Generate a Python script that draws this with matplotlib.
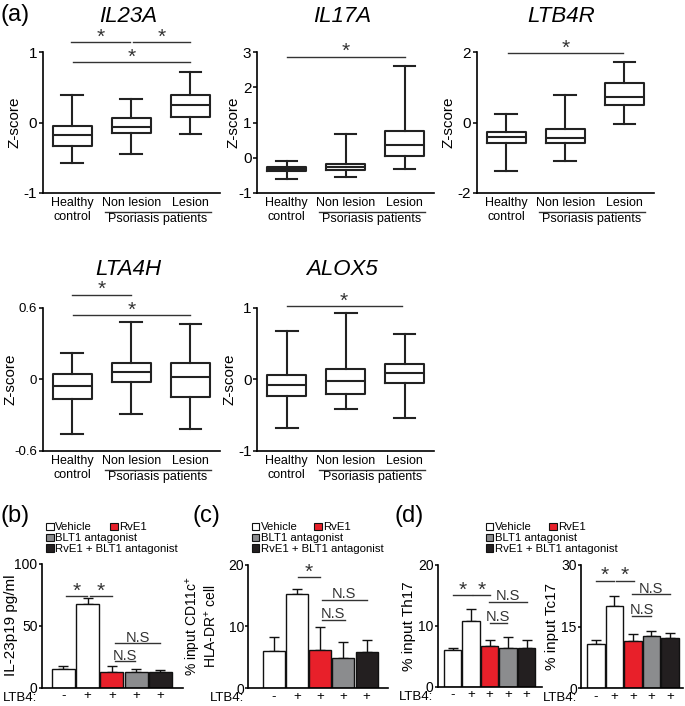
import matplotlib
matplotlib.use('Agg')
import matplotlib.pyplot as plt
from matplotlib.patches import Rectangle

plt.rcParams['font.family'] = ['Liberation Sans', 'DejaVu Sans']
plt.rcParams['axes.unicode_minus'] = False
plt.rcParams['mathtext.fontset'] = 'custom'
plt.rcParams['mathtext.rm'] = 'Liberation Sans'
plt.rcParams['mathtext.it'] = 'Liberation Sans:italic'

W, H = 685, 706

# ---- (a) box plot stats: whislo, q1, median, q3, whishi ----
groups = ['Healthy\ncontrol', 'Non lesion', 'Lesion']

il23a_healthy = [-0.58, -0.33, -0.18, -0.05, 0.39]
il23a_nonlesion = [-0.44, -0.155, -0.065, 0.07, 0.34]
il23a_lesion = [-0.16, 0.085, 0.25, 0.39, 0.72]

il17a_healthy = [-0.59, -0.37, -0.32, -0.25, -0.10]
il17a_nonlesion = [-0.54, -0.36, -0.25, -0.18, 0.67]
il17a_lesion = [-0.33, 0.06, 0.35, 0.77, 2.61]

ltb4r_healthy = [-1.38, -0.59, -0.40, -0.26, 0.23]
ltb4r_nonlesion = [-1.08, -0.57, -0.44, -0.19, 0.78]
ltb4r_lesion = [-0.04, 0.50, 0.73, 1.11, 1.72]

lta4h_healthy = [-0.46, -0.17, -0.057, 0.04, 0.22]
lta4h_nonlesion = [-0.29, -0.023, 0.058, 0.14, 0.48]
lta4h_lesion = [-0.42, -0.15, 0.016, 0.14, 0.46]

alox5_healthy = [-0.68, -0.23, -0.08, 0.058, 0.68]
alox5_nonlesion = [-0.42, -0.20, -0.03, 0.14, 0.92]
alox5_lesion = [-0.54, -0.06, 0.08, 0.21, 0.63]

# ---- (b)-(d) bar data ----
ltb4_labels = ['-', '+', '+', '+', '+']
treatments = ['Vehicle', 'RvE1', 'BLT1 antagonist', 'RvE1 + BLT1 antagonist']
bar_colors = ['white', 'white', '#e8202a', '#8b8c8e', '#231f20']

il23p19_mean = [15.0, 67.7, 12.9, 12.9, 12.3]
il23p19_err = [2.2, 4.1, 4.8, 2.1, 2.2]

cd11c_mean = [6.0, 15.3, 6.1, 4.8, 5.9]
cd11c_err = [2.3, 0.7, 3.7, 2.6, 1.8]

th17_mean = [6.0, 10.8, 6.7, 6.4, 6.4]
th17_err = [0.4, 1.9, 1.0, 1.8, 1.2]

tc17_mean = [10.8, 20.0, 11.4, 12.7, 12.2]
tc17_err = [0.9, 2.5, 1.8, 1.3, 1.3]

fig = plt.figure(figsize=(W / 100, H / 100), dpi=100)


def px_axes(x0, y0, x1, y1):
    ax = fig.add_axes([x0 / W, 1 - y1 / H, (x1 - x0) / W, (y1 - y0) / H])
    ax.px_width = x1 - x0
    return ax


def fig_text(x, y, s, **kw):
    fig.text(x / W, 1 - y / H, s, **kw)


def sig(ax, x1, x2, y, label, fs, off):
    ax.plot([x1, x2], [y, y], color='#333333', lw=1.0, clip_on=False)
    ax.annotate(label, xy=((x1 + x2) / 2, y), xytext=(0, off), textcoords='offset points',
                ha='center', va='baseline', fontsize=fs, color='#333333',
                annotation_clip=False)


def box_panel(ax, data, ylim, yticks, title, title_xy, brackets, ylab_dx, ytfs=11):
    stats = []
    for d, g in zip(data, groups):
        stats.append(dict(whislo=d[0], q1=d[1], med=d[2], q3=d[3], whishi=d[4], label=g))
    lp = dict(color='#222222', lw=1.5)
    ax.bxp(stats, positions=[1, 2, 3], widths=0.66, showfliers=False,
           capwidths=0.37, boxprops=lp, whiskerprops=lp, capprops=lp,
           medianprops=lp)
    ax.set_xlim(0.5, 3.5)
    ax.set_ylim(*ylim)
    ax.set_yticks(yticks)
    ax.set_yticklabels([('%g' % t) for t in yticks], fontsize=ytfs)
    ax.set_ylabel('Z-score', fontsize=11)
    ax.yaxis.set_label_coords(-ylab_dx / ax.px_width, 0.5)
    ax.tick_params(axis='x', length=0, labelsize=9, pad=3)
    ax.tick_params(axis='y', length=3, width=1.1, pad=1)
    for s in ['top', 'right']:
        ax.spines[s].set_visible(False)
    for s in ['left', 'bottom']:
        ax.spines[s].set_linewidth(1.2)
    tr = ax.get_xaxis_transform()
    ax.plot([1.55, 3.35], [-0.135, -0.135], color='#333333', lw=1.0,
            transform=tr, clip_on=False)
    ax.text(2.45, -0.145, 'Psoriasis patients', transform=tr, ha='center',
            va='top', fontsize=9)
    fig_text(title_xy[0], title_xy[1], title, fontsize=16, style='italic',
             ha='center', va='baseline')
    for x1, x2, y in brackets:
        sig(ax, x1, x2, y, '*', 15, -0.5)


# row 1
ax = px_axes(42.7, 52, 220, 193)
box_panel(ax, [il23a_healthy, il23a_nonlesion, il23a_lesion], (-1, 1), [-1, 0, 1],
          'IL23A', (128, 22), [(0.98, 1.97, 1.14), (2.02, 3.0, 1.14), (1.02, 3.0, 0.86)], 21)
ax = px_axes(257, 52, 434, 193)
box_panel(ax, [il17a_healthy, il17a_nonlesion, il17a_lesion], (-1, 3), [-1, 0, 1, 2, 3],
          'IL17A', (342, 22), [(1.0, 3.0, 2.87)], 17)
ax = px_axes(476.7, 52, 654, 193)
box_panel(ax, [ltb4r_healthy, ltb4r_nonlesion, ltb4r_lesion], (-2, 2), [-2, 0, 2],
          'LTB4R', (561, 22), [(1.03, 2.98, 1.98)], 21)
# row 2
ax = px_axes(42.7, 307.7, 220, 450.7)
box_panel(ax, [lta4h_healthy, lta4h_nonlesion, lta4h_lesion], (-0.6, 0.6), [-0.6, 0, 0.6],
          'LTA4H', (128, 275), [(1.0, 2.0, 0.71), (1.02, 3.0, 0.54)], 25.5, ytfs=9.5)
ax = px_axes(257.3, 307.7, 434, 450.7)
box_panel(ax, [alox5_healthy, alox5_nonlesion, alox5_lesion], (-1, 1), [-1, 0, 1],
          'ALOX5', (342, 275), [(1.0, 2.95, 1.02)], 21)


def bar_panel(ax, mean, err, ymax, yticks, ylabel, xlim, stars, ns, ylab_dx, ylfs=11):
    x = list(range(len(mean)))
    ax.bar(x, mean, width=0.95, color=bar_colors, edgecolor='#111111', lw=1.0, zorder=2)
    ax.errorbar(x, mean, yerr=[[0] * len(err), err], fmt='none', ecolor='#111111',
                elinewidth=1.0, capsize=3.5, capthick=1.0, zorder=1)
    ax.set_xlim(*xlim)
    ax.set_ylim(0, ymax)
    ax.set_yticks(yticks)
    ax.set_yticklabels([str(t) for t in yticks], fontsize=10)
    ax.set_xticks(x)
    ax.set_xticklabels(ltb4_labels, fontsize=9.5)
    ax.tick_params(axis='x', length=0, pad=2)
    ax.tick_params(axis='y', length=2.5, width=1.1, pad=0.5)
    ax.set_ylabel(ylabel, fontsize=ylfs, linespacing=0.95)
    ax.yaxis.set_label_coords(-ylab_dx / ax.px_width, 0.5)
    for s in ['top', 'right']:
        ax.spines[s].set_visible(False)
    for s in ['left', 'bottom']:
        ax.spines[s].set_linewidth(1.2)
    ax.annotate('LTB4:', xy=(0, 0), xycoords='axes fraction', xytext=(-3, -7.3),
                textcoords='offset points', ha='right', va='center', fontsize=9.5)
    for x1, x2, y in stars:
        sig(ax, x1, x2, y, '*', 15, -0.5)
    for x1, x2, y in ns:
        sig(ax, x1, x2, y, 'N.S', 10.5, 1.2)


def legend_block(x0, rows_y, x_second):
    sq = 7.5
    items = [(x0, rows_y[0], treatments[0], 'white'),
             (x_second, rows_y[0], treatments[1], bar_colors[2]),
             (x0, rows_y[1], treatments[2], bar_colors[3]),
             (x0, rows_y[2], treatments[3], bar_colors[4])]
    for x, y, lab, col in items:
        fig.add_artist(Rectangle((x / W, 1 - (y + sq / 2) / H), sq / W, sq / H,
                                 facecolor=col, edgecolor='#111111', lw=0.8,
                                 transform=fig.transFigure))
        fig_text(x + sq + 1.5, y + 0.5, lab, fontsize=8.2, va='center', ha='left')


# (b)
ax = px_axes(41.7, 563.5, 183.3, 687.5)
bar_panel(ax, il23p19_mean, il23p19_err, 100, [0, 50, 100], 'IL-23p19 pg/ml', (-0.89, 4.94),
          [(0.11, 0.98, 73.6), (1.10, 1.99, 73.6)],
          [(2.13, 3.98, 35.5), (2.13, 2.95, 21.2)], 24)
legend_block(46, [526.7, 537.5, 548], 110)

# (c)
ax = px_axes(248.3, 564.5, 388.3, 688)
bar_panel(ax, cd11c_mean, cd11c_err, 20, [0, 10, 20],
          '% input CD11c$^{+}$\nHLA-DR$^{+}$ cell', (-1.09, 4.93),
          [(1.05, 2.0, 17.95)],
          [(2.06, 4.0, 14.3), (2.06, 3.06, 11.0)], 30, ylfs=10)
legend_block(251.7, [526.7, 537.5, 548], 314.3)

# (d)
ax = px_axes(437.7, 565, 541.7, 686.7)
bar_panel(ax, th17_mean, th17_err, 20, [0, 10, 20], '% input Th17', (-0.80, 4.82),
          [(0.03, 1.05, 15.1), (1.10, 2.02, 15.1)],
          [(1.97, 4.03, 13.9), (2.03, 2.93, 10.5)], 22)
ax = px_axes(581, 565, 683, 688.3)
bar_panel(ax, tc17_mean, tc17_err, 30, [0, 15, 30], '% input Tc17', (-0.80, 4.7),
          [(0.0, 1.0, 26.2), (1.08, 2.08, 26.2)],
          [(1.93, 4.0, 22.9), (1.93, 3.0, 17.7)], 22)
legend_block(485.7, [526.7, 537.5, 548], 549.3)

# panel letters
fig_text(0, 21, '(a)', fontsize=17, va='baseline', ha='left')
fig_text(0, 522, '(b)', fontsize=17, va='baseline', ha='left')
fig_text(193, 522, '(c)', fontsize=17, va='baseline', ha='left')
fig_text(395, 522, '(d)', fontsize=17, va='baseline', ha='left')

fig.savefig('out.png', dpi=100, facecolor='white')
